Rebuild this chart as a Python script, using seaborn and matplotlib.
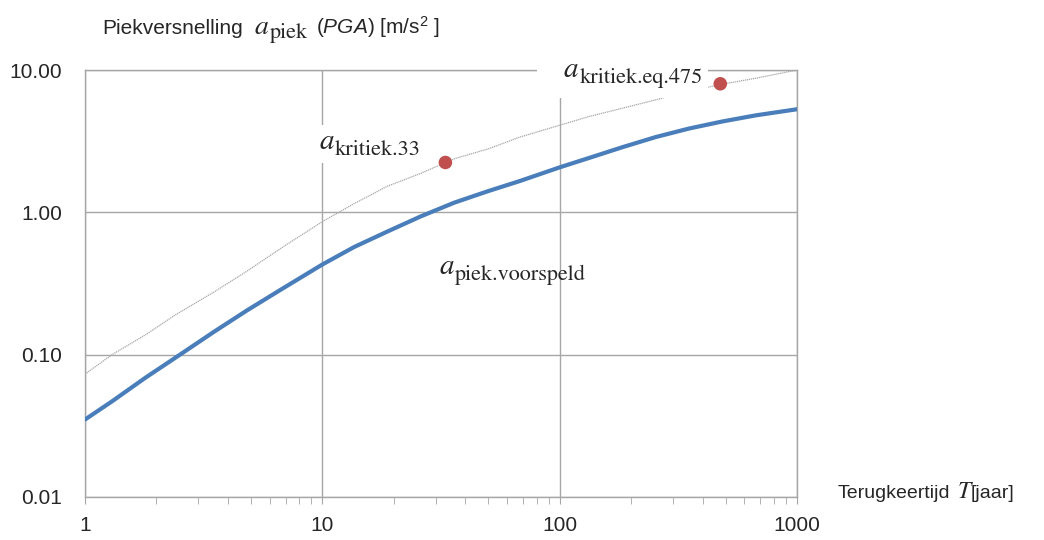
import numpy as np
import pandas as pd
import seaborn as sns
import matplotlib.pyplot as plt
from matplotlib.patches import Rectangle
from matplotlib.ticker import FuncFormatter, LogLocator, NullFormatter

# Return period T [jaar] and peak acceleration readings [m/s2]
T = [1, 1.3, 1.8, 2.4, 3.5, 4.8, 6.7, 10, 13.6, 18.7, 26, 36, 50, 68,
     100, 133, 184, 254, 351, 485, 670, 1000]
a_piek_voorspeld = [0.035, 0.047, 0.069, 0.095, 0.145, 0.204, 0.287, 0.43, 0.57,
                    0.73, 0.937, 1.17, 1.41, 1.66, 2.07, 2.41, 2.87, 3.38, 3.88,
                    4.35, 4.8, 5.3]
a_kritiek = [0.073, 0.10, 0.138, 0.19, 0.276, 0.385, 0.56, 0.86, 1.15, 1.52, 1.88,
             2.38, 2.79, 3.38, 4.09, 4.71, 5.39, 6.17, 7.1, 7.95, 8.75, 10.0]

# the two critical points
T_punt = [33, 475]
a_punt = [2.24, 8.0]

y_ticks = [0.01, 0.1, 1, 10]
x_ticks = [1, 10, 100, 1000]

sns.set_style('white')
plt.rcParams['font.family'] = ['Liberation Sans', 'DejaVu Sans']
plt.rcParams['mathtext.fontset'] = 'custom'
plt.rcParams['mathtext.rm'] = 'Liberation Sans'
plt.rcParams['mathtext.it'] = 'Liberation Sans:italic'

W, H = 1044, 540
fig = plt.figure(figsize=(W / 100, H / 100), dpi=100)
ax = fig.add_axes([85 / W, 1 - 497 / H, (797 - 85) / W, (497 - 70) / H])

df = pd.DataFrame({'T': T, 'voorspeld': a_piek_voorspeld, 'kritiek': a_kritiek})
sns.lineplot(data=df, x='T', y='kritiek', ax=ax, color='#a8a8a8', lw=0.9,
             linestyle=(0, (1, 0.6)), zorder=3)
sns.lineplot(data=df, x='T', y='voorspeld', ax=ax, color='#4a7ebb', lw=3.0, zorder=4)
sns.scatterplot(x=T_punt, y=a_punt, ax=ax, color='#c0504d', s=95, edgecolor='none', zorder=5)

ax.set_xscale('log')
ax.set_yscale('log')
ax.set_xlim(1, 1000)
ax.set_ylim(0.01, 10)
ax.set_yticks(y_ticks)
ax.set_xticks(x_ticks)
ax.yaxis.set_minor_locator(LogLocator(base=10, subs=[], numticks=10))
ax.yaxis.set_major_formatter(FuncFormatter(lambda v, p: '{:.2f}'.format(v)))
ax.xaxis.set_major_formatter(FuncFormatter(lambda v, p: '{:g}'.format(v)))
ax.xaxis.set_minor_locator(LogLocator(base=10, subs=np.arange(2, 10), numticks=10))
ax.xaxis.set_minor_formatter(NullFormatter())

ax.grid(True, which='major', color='#a6a6a6', lw=1.0, zorder=0)
for s in ax.spines.values():
    s.set_color('#a6a6a6')
    s.set_linewidth(1.0)

ax.tick_params(axis='x', which='both', direction='out', length=5, color='#a6a6a6',
               labelsize=15, pad=9, bottom=True)
ax.tick_params(axis='y', which='both', length=0, labelsize=15, pad=16.5, left=True)
ax.set_xlabel('')
ax.set_ylabel('')


def px(x, y):
    return x / W, 1 - y / H


# white boxes behind the critical labels (they hide grid and curve)
for x0, y0, x1, y1 in [(316, 125, 421, 163), (537, 58, 708, 98)]:
    fig.patches.append(Rectangle(px(x0, y1), (x1 - x0) / W, (y1 - y0) / H,
                                 transform=fig.transFigure, facecolor='white',
                                 edgecolor='none', zorder=2))

serif = 'STIXGeneral'
# (x of a, baseline of a, x of subscript, baseline of subscript, subscript)
labels = [(319, 149, 335, 155, 'kritiek.33'),
          (564, 77, 580, 83, 'kritiek.eq.475'),
          (439, 274, 455, 280, 'piek.voorspeld')]
for xa, ya, xs, ys, sub in labels:
    fig.text(*px(xa, ya), 'a', family=serif, style='italic', fontsize=21,
             va='baseline', zorder=3)
    fig.text(*px(xs, ys), sub, family=serif, fontsize=16, va='baseline', zorder=3)

# y axis title
fig.text(*px(102, 34), 'Piekversnelling', fontsize=15, va='baseline')
fig.text(*px(255, 34), 'a', family=serif, style='italic', fontsize=20, va='baseline')
fig.text(*px(270, 38), 'piek', family=serif, fontsize=16, va='baseline')
fig.text(*px(316, 34), r'($\mathit{PGA}$) [m/s$^2$ ]', fontsize=15, va='baseline')

# x axis title
fig.text(*px(838, 498), 'Terugkeertijd', fontsize=14, va='baseline')
fig.text(*px(958, 498), 'T', family=serif, style='italic', fontsize=17, va='baseline')
fig.text(*px(971, 498), '[jaar]', fontsize=14, va='baseline')

fig.savefig('out.png', dpi=100)
